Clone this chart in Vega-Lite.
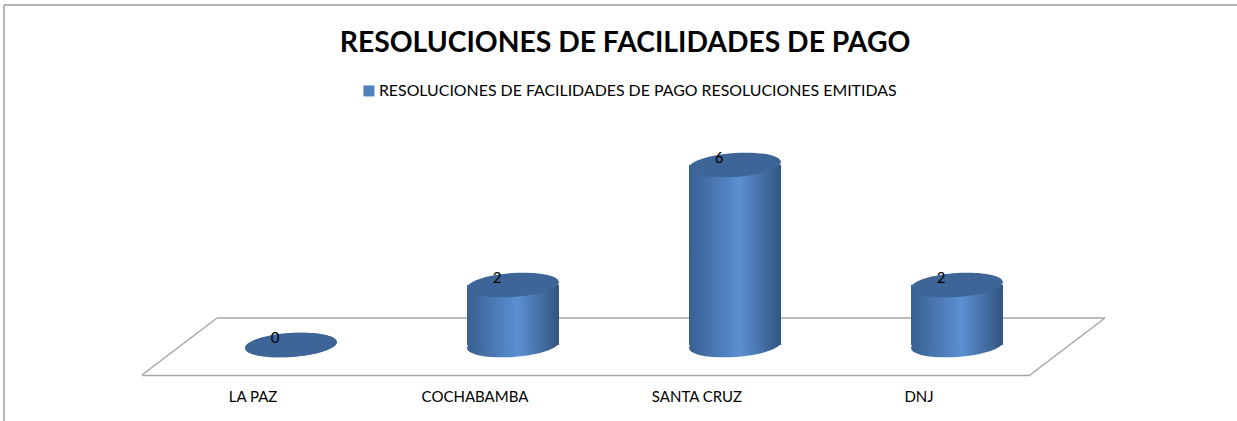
{
  "$schema": "https://vega.github.io/schema/vega-lite/v6.json",
  "width": 888,
  "height": 240,
  "autosize": {"type": "none"},
  "padding": {"left": 142, "top": 135, "right": 207, "bottom": 46},
  "background": "white",
  "config": {"view": {"stroke": null}, "font": "Lato"},
  "title": {
    "text": "RESOLUCIONES DE FACILIDADES DE PAGO",
    "font": "Lato",
    "fontSize": 28.3,
    "fontWeight": "bold",
    "color": "#000000",
    "anchor": "middle",
    "frame": "group",
    "dx": 39,
    "offset": 0,
    "dy": 54
  },
  "data": {
    "values": [
      {"region": "LA PAZ", "valor": 0, "serie": "RESOLUCIONES DE FACILIDADES DE PAGO RESOLUCIONES EMITIDAS"},
      {"region": "COCHABAMBA", "valor": 2, "serie": "RESOLUCIONES DE FACILIDADES DE PAGO RESOLUCIONES EMITIDAS"},
      {"region": "SANTA CRUZ", "valor": 6, "serie": "RESOLUCIONES DE FACILIDADES DE PAGO RESOLUCIONES EMITIDAS"},
      {"region": "DNJ", "valor": 2, "serie": "RESOLUCIONES DE FACILIDADES DE PAGO RESOLUCIONES EMITIDAS"}
    ]
  },
  "resolve": {"scale": {"x": "shared", "y": "shared"}},
  "layer": [
    {
      "data": {"values": [{"desde": "LA PAZ", "hasta": "DNJ", "nivel": 0.9}]},
      "mark": {"type": "rule", "color": "#a6a6a6", "strokeWidth": 1.5, "xOffset": -36, "x2Offset": 186},
      "encoding": {
        "x": {"field": "desde", "type": "nominal"},
        "x2": {"field": "hasta"},
        "y": {"field": "nivel", "type": "quantitative", "scale": {"domain": [-1, 7], "nice": false, "zero": false}, "axis": null}
      }
    },
    {
      "data": {"values": [{"desde": "LA PAZ", "hasta": "DNJ", "nivel": 11.333}]},
      "mark": {"type": "rule", "color": "#9c9c9c", "strokeWidth": 1.5, "xOffset": -249, "x2Offset": 330},
      "encoding": {
        "x": {"field": "desde", "type": "nominal"},
        "x2": {"field": "hasta"},
        "y": {"field": "nivel", "type": "quantitative"}
      }
    },
    {
      "data": {"values": [{"region": "LA PAZ", "lo": -2.6, "hi": 11.333}]},
      "mark": {"type": "rule", "color": "#9c9c9c", "strokeWidth": 1.5, "xOffset": -249, "x2Offset": -249},
      "encoding": {
        "x": {"field": "region", "type": "nominal"},
        "x2": {"field": "region"},
        "y": {"field": "lo", "type": "quantitative"},
        "y2": {"field": "hi"}
      }
    },
    {
      "data": {"values": [{"region": "LA PAZ", "lo": -1, "hi": 0.9}]},
      "mark": {"type": "rule", "color": "#a6a6a6", "strokeWidth": 1.5, "xOffset": -111, "x2Offset": -36},
      "encoding": {
        "x": {"field": "region", "type": "nominal"},
        "x2": {"field": "region"},
        "y": {"field": "lo", "type": "quantitative"},
        "y2": {"field": "hi"}
      }
    },
    {
      "data": {"values": [{"region": "DNJ", "lo": -1, "hi": 0.9}]},
      "mark": {"type": "rule", "color": "#a6a6a6", "strokeWidth": 1.5, "xOffset": 111, "x2Offset": 186},
      "encoding": {
        "x": {"field": "region", "type": "nominal"},
        "x2": {"field": "region"},
        "y": {"field": "lo", "type": "quantitative"},
        "y2": {"field": "hi"}
      }
    },
    {
      "mark": {"type": "bar", "width": 92, "xOffset": 38},
      "encoding": {
        "x": {
          "field": "region", "type": "nominal", "sort": null,
          "scale": {"domain": ["LA PAZ", "COCHABAMBA", "SANTA CRUZ", "DNJ"], "paddingInner": 0, "paddingOuter": 0},
          "axis": {
            "title": null, "labelAngle": 0, "labelAlign": "center", "ticks": false, "grid": false,
            "domain": true, "domainColor": "#a6a6a6", "domainWidth": 1.5,
            "labelFont": "Lato", "labelFontSize": 15, "labelColor": "#000000", "labelPadding": 21
          }
        },
        "y": {"field": "valor", "type": "quantitative"},
        "color": {
          "field": "serie", "type": "nominal",
          "scale": {"range": ["#4f81bd"]},
          "legend": {
            "orient": "none", "legendX": 219, "legendY": -52, "title": null,
            "symbolType": "square", "symbolSize": 121, "symbolStrokeWidth": 0,
            "labelFont": "Lato", "labelFontSize": 15.9, "labelColor": "#000000",
            "labelOffset": 2, "padding": 0, "labelLimit": 1000
          }
        }
      }
    },
    {
      "mark": {
        "type": "point", "filled": true, "xOffset": 38, "size": 8464, "angle": -4, "strokeWidth": 0, "opacity": 1,
        "shape": "M-1,0A1,0.26,0,1,0,1,0A1,0.26,0,1,0,-1,0Z",
        "fill": {"gradient": "linear", "x1": 0, "x2": 1, "y1": 0, "y2": 0,
          "stops": [{"offset": 0, "color": "#385f91"}, {"offset": 0.55, "color": "#5b90d3"}, {"offset": 1, "color": "#32547f"}]}
      },
      "encoding": {
        "x": {"field": "region", "type": "nominal"},
        "y": {"datum": 0, "type": "quantitative"}
      }
    },
    {
      "mark": {
        "type": "bar", "width": 92, "xOffset": 38,
        "fill": {"gradient": "linear", "x1": 0, "x2": 1, "y1": 0, "y2": 0,
          "stops": [{"offset": 0, "color": "#385f91"}, {"offset": 0.55, "color": "#5b90d3"}, {"offset": 1, "color": "#32547f"}]}
      },
      "encoding": {
        "x": {"field": "region", "type": "nominal"},
        "y": {"field": "valor", "type": "quantitative"}
      }
    },
    {
      "mark": {
        "type": "point", "filled": true, "xOffset": 38, "size": 8464, "angle": -4, "strokeWidth": 0, "opacity": 1,
        "shape": "M-1,0A1,0.26,0,1,0,1,0A1,0.26,0,1,0,-1,0Z",
        "fill": "#3e6598"
      },
      "encoding": {
        "x": {"field": "region", "type": "nominal"},
        "y": {"field": "valor", "type": "quantitative"}
      }
    },
    {
      "mark": {"type": "text", "xOffset": 38, "dx": -16, "dy": -7, "baseline": "middle", "align": "center", "font": "Lato", "fontSize": 15, "color": "#000000"},
      "encoding": {
        "x": {"field": "region", "type": "nominal"},
        "y": {"field": "valor", "type": "quantitative"},
        "text": {"field": "valor", "type": "quantitative"}
      }
    }
  ]
}
